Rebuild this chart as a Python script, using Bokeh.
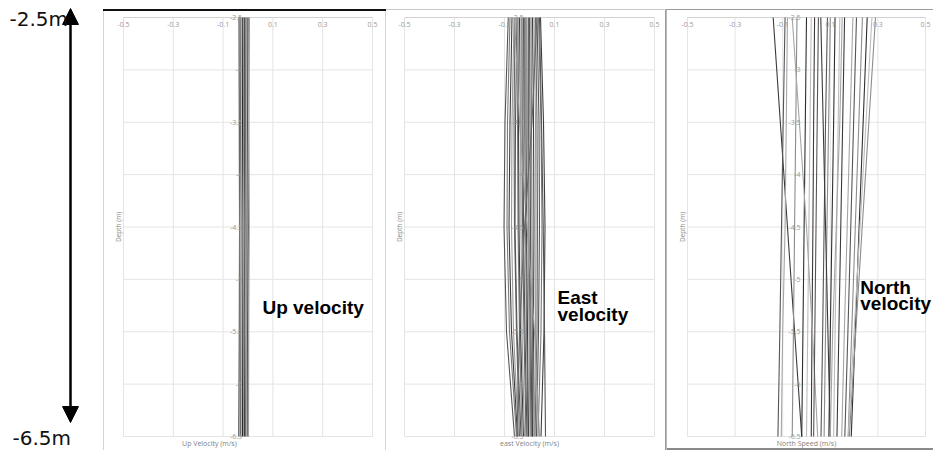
from bokeh.plotting import figure
from bokeh.layouts import row
from bokeh.models import Range1d, Label, LabelSet, Arrow, NormalHead, ColumnDataSource
from bokeh.core.properties import value
from bokeh.embed import file_html
from bokeh.resources import INLINE

# ---------------- data ----------------
depths = [-2.5, -3.5, -4.5, -5.5, -6.5]
x_ticks = [-0.5, -0.3, -0.1, 0.1, 0.3, 0.5]
x_tick_labels = ["-0.5", "-0.3", "-0.1", "0.1", "0.3", "0.5"]
depth_ticks = [-2.5, -3, -3.5, -4, -4.5, -5, -5.5, -6, -6.5]
depth_tick_labels = ["-2.5", "-3", "-3.5", "-4", "-4.5", "-5", "-5.5", "-6", "-6.5"]
range_top = -2.5
range_bottom = -6.5
range_top_label = "-2.5m"
range_bottom_label = "-6.5m"

up_profiles = [
    [-0.036, -0.035, -0.034, -0.035, -0.037],
    [-0.032, -0.031, -0.033, -0.032, -0.031],
    [-0.028, -0.029, -0.027, -0.028, -0.029],
    [-0.025, -0.023, -0.024, -0.026, -0.024],
    [-0.021, -0.022, -0.020, -0.021, -0.022],
    [-0.018, -0.017, -0.019, -0.017, -0.018],
    [-0.014, -0.015, -0.013, -0.015, -0.014],
    [-0.011, -0.010, -0.012, -0.011, -0.010],
    [-0.007, -0.008, -0.007, -0.006, -0.008],
    [-0.004, -0.005, -0.003, -0.005, -0.004],
    [0.000, -0.001, 0.001, -0.001, 0.000],
    [0.006, 0.004, 0.005, 0.003, 0.002],
]

east_profiles = [
    [-0.085, -0.098, -0.102, -0.092, -0.060],
    [-0.078, -0.088, -0.090, -0.080, -0.052],
    [-0.070, -0.078, -0.082, -0.072, -0.048],
    [-0.062, -0.070, -0.072, -0.064, -0.044],
    [-0.058, -0.062, -0.060, -0.052, -0.040],
    [-0.050, -0.056, -0.058, -0.050, -0.034],
    [-0.046, -0.048, -0.046, -0.040, -0.030],
    [-0.040, -0.044, -0.042, -0.036, -0.024],
    [-0.034, -0.036, -0.034, -0.030, -0.020],
    [-0.030, -0.030, -0.028, -0.022, -0.014],
    [-0.024, -0.026, -0.024, -0.018, -0.010],
    [-0.020, -0.020, -0.016, -0.012, -0.006],
    [-0.014, -0.014, -0.012, -0.008, -0.004],
    [-0.010, -0.008, -0.006, -0.002, 0.002],
    [-0.004, -0.004, -0.002, 0.002, 0.006],
    [0.000, 0.002, 0.004, 0.006, 0.010],
    [0.006, 0.008, 0.010, 0.012, 0.014],
    [0.012, 0.016, 0.018, 0.016, 0.012],
    [0.018, 0.024, 0.026, 0.024, 0.018],
    [0.024, 0.030, 0.032, 0.030, 0.022],
    [0.030, 0.038, 0.040, 0.036, 0.028],
    [0.036, 0.046, 0.050, 0.046, 0.034],
    [0.044, 0.056, 0.062, 0.058, 0.046],
    [-0.060, -0.040, -0.010, 0.020, 0.040],
    [0.030, 0.010, -0.020, -0.040, -0.050],
    [0.040, 0.048, 0.055, 0.060, 0.064],
]

north_profiles = [
    [-0.140, -0.110, -0.080, -0.050, -0.020],
    [-0.080, -0.085, -0.090, -0.100, -0.106],
    [-0.090, -0.098, -0.105, -0.112, -0.120],
    [-0.040, -0.045, -0.050, -0.055, -0.060],
    [0.000, -0.005, -0.010, -0.015, -0.020],
    [0.020, 0.015, 0.010, 0.005, 0.000],
    [0.034, 0.030, 0.027, 0.023, 0.020],
    [-0.060, -0.030, 0.000, 0.025, 0.047],
    [0.088, 0.080, 0.074, 0.068, 0.061],
    [0.100, 0.093, 0.086, 0.080, 0.074],
    [0.120, 0.114, 0.107, 0.100, 0.094],
    [0.140, 0.133, 0.127, 0.120, 0.114],
    [0.160, 0.152, 0.144, 0.136, 0.128],
    [0.195, 0.183, 0.171, 0.159, 0.148],
    [0.210, 0.198, 0.186, 0.174, 0.161],
    [0.235, 0.220, 0.205, 0.190, 0.175],
    [0.255, 0.238, 0.221, 0.205, 0.188],
    [0.275, 0.250, 0.225, 0.200, 0.175],
    [0.060, 0.070, 0.080, 0.090, 0.100],
    [0.150, 0.140, 0.125, 0.110, 0.100],
    [0.050, 0.045, 0.040, 0.035, 0.030],
    [0.290, 0.262, 0.234, 0.207, 0.180],
]

# ---------------- style / layout ----------------
H = 450
PANEL_TOP_GAP = 9           # panels start a little below the page top
PH = H - PANEL_TOP_GAP      # panel figure height
PLOT_TOP = 8                # pixel row (inside a panel) of the -2.5 m line
PLOT_BOTTOM = 427           # pixel row (inside a panel) of the -6.5 m line
SMALL_FONT = "Open Sans"
BIG_FONT = "Liberation Sans"
UP_GRAYS = ["#3c3c3c", "#8a8a8a", "#5c5c5c", "#b4b4b4", "#2a2a2a", "#a0a0a0"]
EAST_GRAYS = ["#555555", "#7a7a7a", "#3e3e3e", "#9a9a9a", "#686868"]
NORTH_GRAYS = ["#3a3a3a", "#a5a5a5", "#555555", "#8c8c8c", "#2e2e2e", "#bdbdbd"]


def make_panel(profiles, grays, width, left_px, right_px, shadow, xlabel, xlabel_x,
               big_texts, big_x, big_ys):
    xs_per_px = 1.0 / (right_px - left_px)
    ys_per_px = (range_top - range_bottom) / (PLOT_BOTTOM - PLOT_TOP)
    x_rng = Range1d(-0.5 - left_px * xs_per_px, 0.5 + (width - right_px) * xs_per_px)
    y_rng = Range1d(range_bottom - (PH - PLOT_BOTTOM) * ys_per_px,
                    range_top + PLOT_TOP * ys_per_px)
    p = figure(width=width, height=PH, x_range=x_rng, y_range=y_rng, title=None,
               x_axis_location=None, y_axis_location=None,
               toolbar_location=None, output_backend="svg", min_border=0,
               border_fill_color=None, background_fill_color=None,
               outline_line_color=None, styles={"box-shadow": shadow},
               margin=(PANEL_TOP_GAP, 0, 0, 0))
    p.grid.visible = False

    # gridlines, from the tick arrays
    p.segment(x0=x_ticks, y0=[range_top] * len(x_ticks), x1=x_ticks,
              y1=[range_bottom] * len(x_ticks), line_color="#e4e4e4", line_width=1)
    p.segment(x0=[-0.5] * len(depth_ticks), y0=depth_ticks, x1=[0.5] * len(depth_ticks),
              y1=depth_ticks, line_color="#e4e4e4", line_width=1)
    p.segment(x0=[-0.5], y0=[range_top], x1=[0.5], y1=[range_top],
              line_color="#d2d2d2", line_width=1)

    colors = [grays[i % len(grays)] for i in range(len(profiles))]
    src = ColumnDataSource(dict(xs=profiles, ys=[depths] * len(profiles), c=colors))
    p.multi_line("xs", "ys", line_color="c", line_width=1.1, source=src)

    tsrc = ColumnDataSource(dict(x=x_ticks, y=[range_top] * len(x_ticks), t=x_tick_labels))
    p.add_layout(LabelSet(x="x", y="y", text="t", source=tsrc, y_offset=-7,
                          text_align="center", text_baseline="middle",
                          text_font_size=value("7px"), text_color="#999999",
                          text_font=value(SMALL_FONT)))
    dsrc = ColumnDataSource(dict(x=[0] * len(depth_ticks), y=depth_ticks, t=depth_tick_labels))
    p.add_layout(LabelSet(x="x", y="y", text="t", source=dsrc, x_offset=-6,
                          text_align="right", text_baseline="middle",
                          text_font_size=value("7px"), text_color="#999999",
                          text_font=value(SMALL_FONT)))
    p.add_layout(Label(x=-0.5, y=(range_top + range_bottom) / 2, x_offset=-5,
                       text="Depth (m)", angle=90, angle_units="deg",
                       text_align="center", text_baseline="middle",
                       text_font_size="6.5px", text_color="#8a8a8a",
                       text_font=SMALL_FONT))
    p.add_layout(Label(x=xlabel_x, y=range_bottom, y_offset=-7, text=xlabel,
                       text_align="center", text_baseline="middle",
                       text_font_size="7px", text_color="#7f7f7f",
                       text_font=SMALL_FONT))
    for t, yy in zip(big_texts, big_ys):
        p.add_layout(Label(x=big_x, y=yy, text=t, text_font=BIG_FONT,
                           text_font_style="bold", text_font_size="19px",
                           text_color="black", text_baseline="middle",
                           text_align="left"))
    return p


# left arrow figure (depth range indicator)
ARROW_TOP_PX, ARROW_BOTTOM_PX = 8, 422
a_per_px = (range_top - range_bottom) / (ARROW_BOTTOM_PX - ARROW_TOP_PX)
pa = figure(width=103, height=H, x_range=Range1d(0, 103),
            y_range=Range1d(range_bottom - (H - ARROW_BOTTOM_PX) * a_per_px,
                            range_top + ARROW_TOP_PX * a_per_px),
            title=None, x_axis_location=None, y_axis_location=None,
            toolbar_location=None, output_backend="svg", min_border=0,
            outline_line_color=None, border_fill_color=None,
            background_fill_color=None)
pa.grid.visible = False
pa.add_layout(Arrow(start=NormalHead(size=16, fill_color="black", line_color="black"),
                    end=NormalHead(size=16, fill_color="black", line_color="black"),
                    x_start=70, y_start=range_top, x_end=70, y_end=range_bottom,
                    line_width=2.5, line_color="black"))
pa.add_layout(Label(x=9, y=range_top, y_offset=-10, text=range_top_label,
                    text_font="DejaVu Sans", text_font_size="20px", text_color="#111111",
                    text_baseline="middle"))
pa.add_layout(Label(x=12, y=range_bottom, y_offset=-15, text=range_bottom_label,
                    text_font="DejaVu Sans", text_font_size="20px", text_color="#111111",
                    text_baseline="middle"))

p1 = make_panel(up_profiles, UP_GRAYS, 283, 20, 269,
                "inset 0 2px 0 0 #111111, inset 1px 0 0 0 #d4d4d4, inset -1px 0 0 0 #d4d4d4",
                "Up Velocity (m/s)", -0.155, ["Up velocity"], 0.058, [-5.267])
p2 = make_panel(east_profiles, EAST_GRAYS, 280, 18, 268,
                "inset 0 1px 0 0 #c8c8c8, inset -1px 0 0 0 #9a9a9a",
                "east Velocity (m/s)", 0.0, ["East", "velocity"], 0.112, [-5.173, -5.331])
p3 = make_panel(north_profiles, NORTH_GRAYS, 267, 21, 259,
                "inset 0 1px 0 0 #9a9a9a, inset 1px 0 0 0 #b8b8b8, inset 0 -2px 0 0 #8a8a8a",
                "North Speed (m/s)", 0.0, ["North", "velocity"], 0.226, [-5.073, -5.232])

layout = row(pa, p1, p2, p3)
open("out.html", "w").write(file_html(layout, INLINE))
